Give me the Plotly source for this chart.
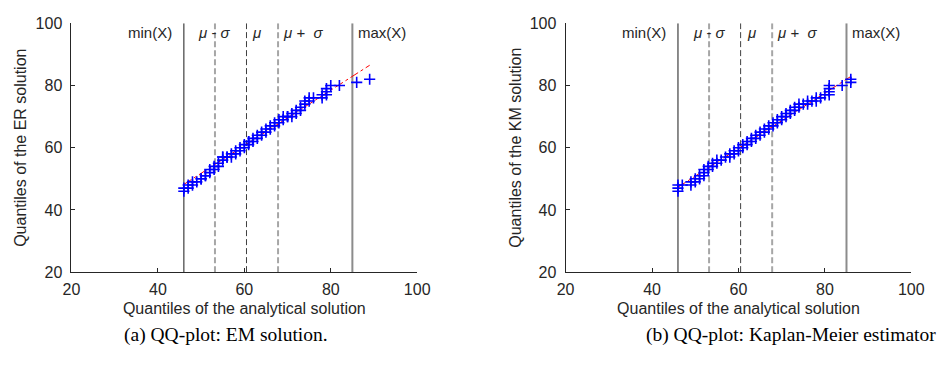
import plotly.graph_objects as go

# ---------------- data ----------------
em_x = [46, 46, 47, 47, 48, 48, 49, 50, 50, 51, 51, 52, 52, 53, 53, 54, 54, 55, 55, 55,
        56, 56, 57, 57, 58, 58, 59, 59, 60, 60, 61, 61, 61, 62, 62, 63, 63, 64, 64, 65,
        65, 66, 66, 67, 67, 68, 68, 69, 69, 70, 70, 71, 71, 72, 72, 73, 73, 74, 74, 75,
        75, 76, 78, 78, 79, 79, 79, 80, 82, 86, 89]
em_y = [46, 47, 47, 48, 48, 49, 49, 50, 50, 51, 51, 52, 53, 53, 54, 54, 55, 56, 57, 57,
        57, 57, 57, 58, 58, 59, 59, 60, 60, 61, 61, 62, 62, 62, 63, 63, 64, 64, 65, 65,
        66, 66, 67, 67, 68, 68, 69, 69, 70, 70, 70, 70, 71, 71, 72, 72, 73, 74, 75, 75,
        76, 76, 76, 77, 77, 78, 79, 80, 80, 81, 82]
em_ref_x = [46, 89]
em_ref_y = [48.2, 86.5]

km_x = [46, 46, 46, 47, 49, 49, 50, 50, 51, 51, 52, 52, 52, 53, 53, 54, 54, 55, 55, 56,
        57, 58, 58, 59, 59, 60, 60, 61, 61, 62, 62, 63, 63, 64, 64, 65, 65, 66, 66, 67,
        67, 68, 68, 69, 69, 70, 70, 71, 71, 72, 72, 73, 73, 74, 74, 75, 76, 76, 77, 78,
        78, 79, 80, 81, 81, 81, 81, 84, 86, 86]
km_y = [46, 47, 48, 48, 48, 49, 49, 50, 50, 51, 51, 52, 53, 53, 54, 54, 55, 55, 56, 56,
        57, 57, 58, 58, 59, 59, 60, 60, 61, 61, 62, 62, 63, 63, 64, 64, 65, 65, 66, 66,
        67, 67, 68, 68, 69, 69, 70, 70, 71, 71, 72, 72, 73, 73, 74, 74, 74, 75, 75, 75,
        76, 76, 77, 77, 78, 79, 80, 80, 81, 82]
km_ref_x = [46, 86]
km_ref_y = [47.3, 82.9]

stat_min = 46.0
stat_mean = 60.5
stat_sd = 7.3
stat_max = 85.0

axis_ticks = [20, 40, 60, 80, 100]
x_title = "Quantiles of the analytical solution"
y_titles = ["Quantiles of the ER solution", "Quantiles of the KM solution"]
captions = ["(a) QQ-plot: EM solution.", "(b) QQ-plot: Kaplan-Meier estimator"]

# ---------------- figure ----------------
W, H = 937, 366
AX = "#262626"
FONT = "Liberation Sans, Arial, sans-serif"
FS = 16

fig = go.Figure()

panels = [
    (em_x, em_y, em_ref_x, em_ref_y, "x", "y"),
    (km_x, km_y, km_ref_x, km_ref_y, "x2", "y2"),
]

vlines = [
    (stat_min, "solid", "#404040", 1.2),
    (stat_mean - stat_sd, "6px,3px", "#a6a6a6", 2),
    (stat_mean, "6px,3px", "#404040", 1),
    (stat_mean + stat_sd, "6px,3px", "#a6a6a6", 2),
    (stat_max, "solid", "#8c8c8c", 2),
]

for xs, ys, rx, ry, xa, ya in panels:
    for xv, dash, col, w in vlines:
        fig.add_trace(go.Scatter(x=[xv, xv], y=[20, 100], mode="lines",
                                 line=dict(color=col, width=w, dash=dash),
                                 xaxis=xa, yaxis=ya, showlegend=False, hoverinfo="skip"))
    fig.add_trace(go.Scatter(x=rx, y=ry, mode="lines",
                             line=dict(color="red", width=1, dash="dashdot"),
                             xaxis=xa, yaxis=ya, showlegend=False))
    fig.add_trace(go.Scatter(x=xs, y=ys, mode="markers",
                             marker=dict(symbol="cross-thin", size=8,
                                         line=dict(color="#0000ff", width=1.6)),
                             xaxis=xa, yaxis=ya, showlegend=False))

    # labels of the vertical lines
    ty = 97.0
    lab = dict(xref=xa, yref=ya, y=ty, showarrow=False,
               font=dict(family=FONT, size=15, color=AX), yanchor="middle")
    fig.add_annotation(x=stat_min, text="min(X)", xanchor="right", xshift=-10, **lab)
    fig.add_annotation(x=stat_mean - stat_sd, text="<i>μ</i> - <i>σ</i>", xanchor="center", **lab)
    fig.add_annotation(x=stat_mean, text="<i>μ</i>", xanchor="left", xshift=4, **lab)
    fig.add_annotation(x=stat_mean + stat_sd, text="<i>μ</i> +  <i>σ</i>", xanchor="left", xshift=3, **lab)
    fig.add_annotation(x=stat_max, text="max(X)", xanchor="left", xshift=4, **lab)

ydom = [(H - 277) / H, (H - 16) / H]
xdoms = [[64 / W, 418 / W], [570 / W, 924 / W]]

common = dict(range=[20, 100], tickvals=axis_ticks, ticks="inside", ticklen=4,
              tickcolor=AX, tickwidth=1, showline=True, linecolor=AX, linewidth=1,
              mirror=False, showgrid=False, zeroline=False,
              tickfont=dict(family=FONT, size=FS, color=AX))

layout = dict(width=W, height=H, margin=dict(l=0, r=0, t=0, b=0),
              plot_bgcolor="white", paper_bgcolor="white", showlegend=False)
for i in range(2):
    sx = "" if i == 0 else "2"
    layout["xaxis" + sx] = dict(domain=xdoms[i], anchor="y" + sx,
                                title=dict(text=x_title, standoff=5,
                                           font=dict(family=FONT, size=FS, color=AX)),
                                ticklabelstandoff=3, **common)
    layout["yaxis" + sx] = dict(domain=ydom, anchor="x" + sx,
                                title=dict(text=y_titles[i], standoff=4,
                                           font=dict(family=FONT, size=FS, color=AX)),
                                ticklabelstandoff=5, **common)
fig.update_layout(**layout)

CAP_FONT = dict(family="Liberation Serif, Times New Roman, serif", size=19.5, color="black")
fig.add_annotation(xref="paper", yref="paper", x=222 / W, y=(H - 343) / H,
                   text=captions[0], showarrow=False, xanchor="center", yanchor="middle",
                   font=CAP_FONT)
fig.add_annotation(xref="paper", yref="paper", x=650 / W, y=(H - 343) / H,
                   text=captions[1], showarrow=False, xanchor="left", yanchor="middle",
                   font=CAP_FONT)

fig.write_html("out.html")
